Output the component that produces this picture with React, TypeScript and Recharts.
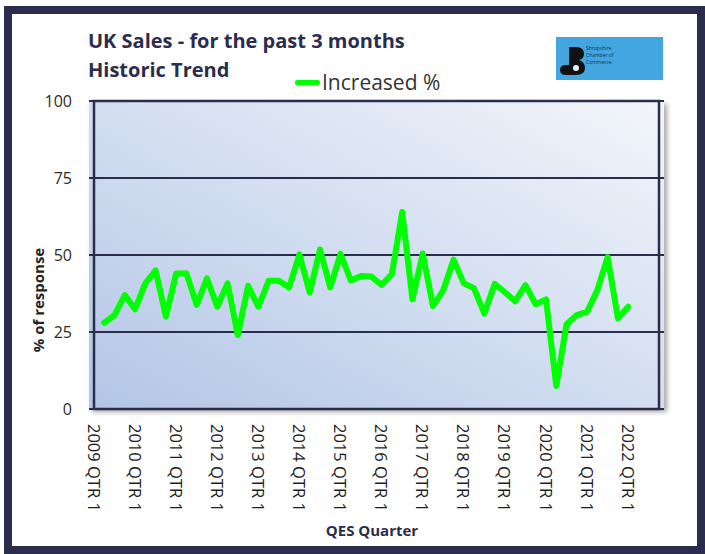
import React from 'react';
import { LineChart, Line, XAxis, YAxis, CartesianGrid, ReferenceArea, Legend } from 'recharts';

const years = ['2009', '2010', '2011', '2012', '2013', '2014', '2015', '2016', '2017', '2018', '2019', '2020', '2021', '2022'];
const quarters = ['QTR 1', 'QTR 2', 'QTR 3', 'QTR 4'];
const categories: string[] = years.flatMap((y) => quarters.map((q) => `${y} ${q}`));

// Increased % (2009 QTR 1 .. 2022 QTR 4); null where no survey value is plotted
const increased: (number | null)[] = [
  null, 28, 30.5, 37, 32.4, 40.8, 45, 30, 44, 44, 33.8, 42.4, 33.2, 40.8, 24, 40,
  33.2, 41.6, 41.6, 39.5, 50.2, 37.8, 51.8, 39.5, 50.4, 41.7, 43.2, 43, 40.3, 43.8, 64, 35.6,
  50.5, 33.4, 38.6, 48.5, 40.8, 39.2, 31, 40.6, 37.9, 35, 40.2, 34, 35.6, 7.5,
  27.5, 30.5, 31.6, 38.6, 49.3, 29.5, 33.2, null, null, null,
];

const yTicks = [0, 25, 50, 75, 100];

const data = categories.map((c, i) => ({ quarter: c, increased: increased[i] }));

const NAVY = '#2a2d4d';
const FONT = '"Open Sans", "Noto Sans", sans-serif';

const XTick = (props: any) => {
  const { x, y, payload } = props;
  return (
    <text
      x={x}
      y={y}
      transform={`rotate(90 ${x} ${y})`}
      textAnchor="start"
      dominantBaseline="central"
      fontSize={16.5}
      fontFamily={FONT}
      fill="#1e1e1e"
    >
      {payload.value}
    </text>
  );
};

const LegendContent = (props: any) => {
  const { payload } = props;
  return (
    <div style={{ display: 'flex', alignItems: 'center' }}>
      {(payload || []).map((p: any) => (
        <div key={p.value} style={{ display: 'flex', alignItems: 'center' }}>
          <div style={{ width: 25, height: 5, borderRadius: 2, background: p.color, marginRight: 2 }} />
          <span style={{ fontFamily: FONT, fontSize: 21, color: '#333', lineHeight: '24px' }}>{p.value}</span>
        </div>
      ))}
    </div>
  );
};

export default function App() {
  return (
    <div style={{ position: 'absolute', left: 0, top: 0, width: 705, height: 554, background: '#fff', overflow: 'hidden' }}>
      <div
        style={{
          position: 'absolute',
          left: 4,
          top: 6,
          width: 701,
          height: 548,
          border: `8px solid ${NAVY}`,
          boxSizing: 'border-box',
        }}
      />
      <div
        style={{
          position: 'absolute',
          left: 89,
          top: 101,
          width: 575,
          height: 308,
          boxShadow: '3px 3px 5px rgba(0,0,0,0.35)',
        }}
      />
      <div style={{ position: 'absolute', left: 88, top: 26, fontFamily: FONT, fontWeight: 700, fontSize: 20, color: NAVY, lineHeight: '29px' }}>
        <div>UK Sales - for the past 3 months</div>
        <div>Historic Trend</div>
      </div>
      <div style={{ position: 'absolute', left: 556, top: 37, width: 107, height: 43, background: '#43a6e0' }}>
        <svg width={107} height={43}>
          <path d="M10 10 h10 q8 0 8 7 q0 5 -5 6 q6 2 6 8 q0 7 -9 7 h-10 q-6 0 -6 -5 q0 -5 6 -5 h3 v-18 z" fill="#111" />
          <circle cx={20} cy={31} r={3} fill="#e8eef5" />
          <text x={30} y={13} fontSize={5} fontFamily={FONT} fill="#1b2a55">Shropshire</text>
          <text x={30} y={20} fontSize={5} fontFamily={FONT} fill="#1b2a55">Chamber of</text>
          <text x={30} y={27} fontSize={5} fontFamily={FONT} fill="#1b2a55">Commerce</text>
        </svg>
      </div>
      <div
        style={{
          position: 'absolute',
          left: 38,
          top: 300,
          transform: 'translate(-50%, -50%) rotate(-90deg)',
          fontFamily: FONT,
          fontWeight: 700,
          fontSize: 15,
          color: '#222',
          whiteSpace: 'nowrap',
        }}
      >
        % of response
      </div>
      <div
        style={{
          position: 'absolute',
          left: 372,
          top: 530,
          transform: 'translate(-50%, -50%)',
          fontFamily: FONT,
          fontWeight: 700,
          fontSize: 15,
          color: NAVY,
          whiteSpace: 'nowrap',
        }}
      >
        QES Quarter
      </div>
      <div style={{ position: 'absolute', left: 0, top: 0 }}>
        <LineChart width={705} height={554} data={data} margin={{ top: 101, right: 41, bottom: 25, left: 29 }}>
          <defs>
            <linearGradient id="plotBg" x1="0" y1="1" x2="1" y2="0">
              <stop offset="0%" stopColor="#b3c6e6" />
              <stop offset="100%" stopColor="#f3f6fb" />
            </linearGradient>
          </defs>
          <CartesianGrid vertical={false} fill="url(#plotBg)" stroke={NAVY} strokeWidth={2} strokeOpacity={1} />
          <XAxis
            dataKey="quarter"
            interval={3}
            padding={{ left: 5, right: 5 }}
            axisLine={false}
            tickLine={false}
            tickMargin={9}
            height={120}
            tick={<XTick />}
          />
          <YAxis
            domain={[0, 100]}
            ticks={yTicks}
            width={60}
            axisLine={false}
            tickLine={false}
            tickMargin={11}
            tick={{ fontSize: 16, fontFamily: FONT, fill: '#2b2b2b' }}
          />
          <ReferenceArea y1={0} y2={100} fill="none" stroke={NAVY} strokeWidth={2.5} fillOpacity={0} />
          <Legend
            layout="horizontal"
            verticalAlign="middle"
            align="center"
            content={<LegendContent />}
            wrapperStyle={{ position: 'absolute', top: 70, left: 295, width: 220 }}
          />
          <Line
            dataKey="increased"
            name="Increased %"
            stroke="#00ff00"
            strokeWidth={6}
            dot={false}
            isAnimationActive={false}
            strokeLinejoin="round"
            strokeLinecap="round"
            legendType="line"
          />
        </LineChart>
      </div>
    </div>
  );
}
